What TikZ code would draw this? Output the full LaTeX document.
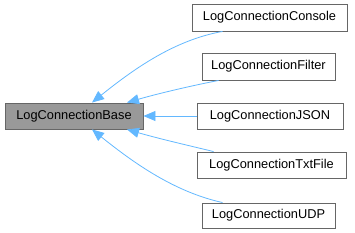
\documentclass[tikz,border=0pt]{standalone}
\usepackage{fontspec}
\setmainfont{Liberation Sans}
\usetikzlibrary{arrows.meta}
\definecolor{edgeblue}{HTML}{63B8FF}
\definecolor{boxborder}{HTML}{666666}
\definecolor{basefill}{HTML}{999999}
\begin{document}
\begin{tikzpicture}[x=1bp,y=-1bp,
  cls/.style={draw=boxborder,line width=0.9bp,fill=white,inner sep=0pt,
    font=\fontsize{12.8bp}{14bp}\selectfont,align=center},
  basecls/.style={cls,fill=basefill},
  inh/.style={draw=edgeblue,line width=0.8bp,
    {Triangle[length=12bp,width=10bp,fill=edgeblue]}-}]
\useasboundingbox (0,0) rectangle (355,233);
\node[basecls,minimum width=138bp,minimum height=26bp] (base) at (74,116) {LogConnectionBase};
\node[cls,minimum width=155bp,minimum height=27bp] (console) at (269.5,17.5) {LogConnectionConsole};
\node[cls,minimum width=133bp,minimum height=27bp] (filter) at (268.5,66.5) {LogConnectionFilter};
\node[cls,minimum width=146bp,minimum height=26bp] (json) at (270,116) {LogConnectionJSON};
\node[cls,minimum width=149bp,minimum height=26bp] (txt) at (271.5,165) {LogConnectionTxtFile};
\node[cls,minimum width=133bp,minimum height=25bp] (udp) at (268.5,215.5) {LogConnectionUDP};
\draw[inh] ([xshift=18bp]base.north) .. controls (135,68) and (175,40) .. ([xshift=-47bp]console.south);
\draw[inh] ([xshift=53bp]base.north) .. controls (160,93) and (195,85) .. ([xshift=17bp]filter.south west);
\draw[inh] (base.east) -- (json.west);
\draw[inh] ([xshift=53bp]base.south) .. controls (160,139) and (195,147) .. ([xshift=17bp]txt.north west);
\draw[inh] ([xshift=18bp]base.south) .. controls (135,164) and (175,192) .. ([xshift=-46bp]udp.north);
\end{tikzpicture}
\end{document}
